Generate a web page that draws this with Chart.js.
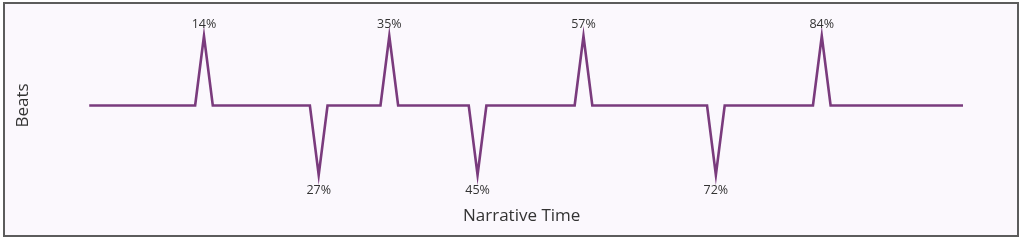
<!DOCTYPE html>
<html>
<head>
<meta charset="utf-8">
<script src="https://cdn.jsdelivr.net/npm/chart.js@4/dist/chart.umd.min.js"></script>
<style>
  html, body { margin: 0; padding: 0; background: #ffffff; }
  #frame {
    position: absolute; left: 3px; top: 2px;
    width: 1012px; height: 231px;
    border: 2px solid #5c5c5c;
    background: #fbf8fd;
  }
  #frame canvas { display: block; }
</style>
</head>
<body>
<div id="frame"><canvas id="c" width="1012" height="231"></canvas></div>
<script>
// Narrative time (% of story) and beat direction (+1 up beat, -1 down beat, 0 flat)
const timePoints = [1, 13, 14, 15, 26, 27, 28, 34, 35, 36, 44, 45, 46, 56, 57, 58, 71, 72, 73, 83, 84, 85, 100];
const beatValues = [0, 0, 1, 0, 0, -1, 0, 0, 1, 0, 0, -1, 0, 0, 1, 0, 0, -1, 0, 0, 1, 0, 0];
const xAxisTitle = 'Narrative Time';
const yAxisTitle = 'Beats';

const points = timePoints.map((t, i) => ({ x: t, y: beatValues[i] }));

const beatLabelPlugin = {
  id: 'beatLabels',
  afterDatasetsDraw(chart) {
    const ctx = chart.ctx;
    const meta = chart.getDatasetMeta(0);
    ctx.save();
    ctx.font = '12.5px "Open Sans"';
    ctx.fillStyle = '#333333';
    ctx.textAlign = 'center';
    meta.data.forEach((el, i) => {
      const v = beatValues[i];
      if (v === 0) return;
      const label = timePoints[i] + '%';
      if (v > 0) {
        ctx.textBaseline = 'alphabetic';
        ctx.fillText(label, el.x, el.y - 8);
      } else {
        ctx.textBaseline = 'top';
        ctx.fillText(label, el.x, el.y + 9);
      }
    });
    ctx.restore();
  }
};

new Chart(document.getElementById('c'), {
  type: 'line',
  data: {
    datasets: [{
      data: points,
      borderColor: '#7a3b7d',
      borderWidth: 2.6,
      pointRadius: 0,
      tension: 0,
      fill: false,
      clip: false,
      borderJoinStyle: 'miter'
    }]
  },
  options: {
    responsive: false,
    animation: false,
    events: [],
    layout: { padding: { left: 0, right: 54, top: 32, bottom: 0 } },
    plugins: { legend: { display: false }, tooltip: { enabled: false } },
    scales: {
      x: {
        type: 'linear', min: 0, max: 100,
        grid: { display: false }, border: { display: false },
        ticks: { display: false },
        title: { display: true, text: xAxisTitle, color: '#333333',
                 font: { family: 'Open Sans', size: 17 }, padding: { top: 0, bottom: 9 } },
        afterFit(scale) { scale.height = 60; }
      },
      y: {
        min: -1, max: 1,
        grid: { display: false }, border: { display: false },
        ticks: { display: false },
        title: { display: true, text: yAxisTitle, color: '#333333',
                 font: { family: 'Open Sans', size: 17 }, padding: { top: 8, bottom: 0 } },
        afterFit(scale) { scale.width = 75.4; }
      }
    }
  },
  plugins: [beatLabelPlugin]
});
</script>
</body>
</html>
